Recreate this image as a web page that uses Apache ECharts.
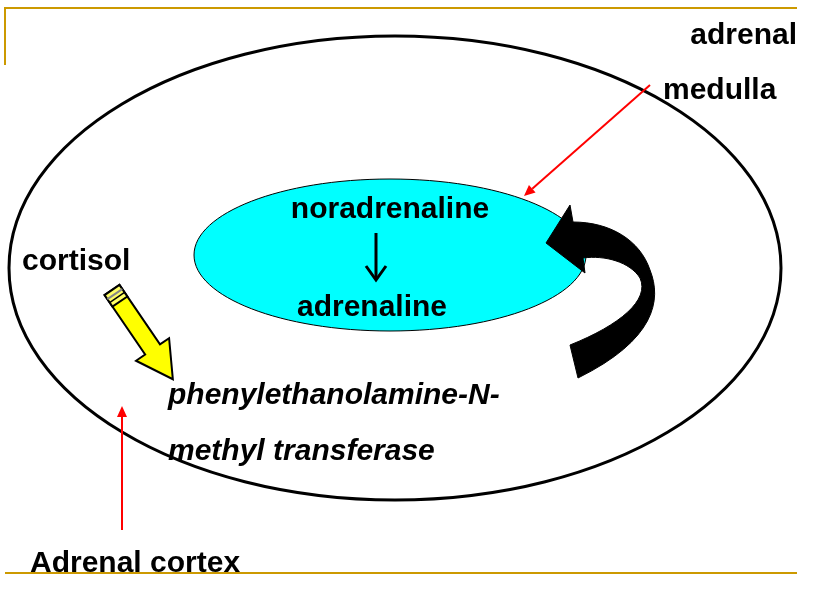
<!DOCTYPE html>
<html>
<head>
<meta charset="utf-8">
<script src="https://cdn.jsdelivr.net/npm/echarts@6/dist/echarts.min.js"></script>
<style>html,body{margin:0;padding:0;background:#fff}#chart{width:828px;height:600px}</style>
</head>
<body>
<div id="chart"></div>
<script>
// diagram texts
var innerLabels = ['noradrenaline', 'adrenaline']
var enzymeLines = ['phenylethanolamine-N-', 'methyl transferase']
var medullaLines = ['adrenal', 'medulla']
var hormone = 'cortisol'
var cortexLabel = 'Adrenal cortex'

var chart = echarts.init(document.getElementById('chart'))
var font = 'bold 30px "Liberation Sans", Arial, sans-serif'
var gold = '#cc9900'

function txt (s, x, y, extra) {
  return {
    type: 'text', x: x, y: y, z: 20,
    style: Object.assign({ text: s, font: font, fill: '#000', textAlign: 'left', textVerticalAlign: 'middle' }, extra || {})
  }
}

// sample a cubic bezier into points
function bez (p0, p1, p2, p3) {
  var out = []
  for (var i = 1; i <= 16; i++) {
    var t = i / 16, u = 1 - t
    out.push([
      u * u * u * p0[0] + 3 * u * u * t * p1[0] + 3 * u * t * t * p2[0] + t * t * t * p3[0],
      u * u * u * p0[1] + 3 * u * u * t * p1[1] + 3 * u * t * t * p2[1] + t * t * t * p3[1]
    ])
  }
  return out
}

function curvedArrow () {
  var pts = [[546, 243], [570, 205], [573, 222]]
  pts = pts.concat(bez([573, 222], [610, 222], [640, 240], [650, 270]))
  pts = pts.concat(bez([650, 270], [662, 300], [655, 340], [578, 378]))
  pts.push([570, 345])
  pts = pts.concat(bez([570, 345], [620, 325], [650, 300], [640, 278]))
  pts = pts.concat(bez([640, 278], [630, 262], [605, 255], [583, 258]))
  pts.push([585, 273])
  return { type: 'polygon', z: 5, shape: { points: pts }, style: { fill: '#000', stroke: '#000', lineWidth: 1 } }
}

// pencil-shaped arrow, built in a local frame then rotated
function pencil () {
  var ox = 112, oy = 290, ang = Math.atan2(88, 60)
  var c = Math.cos(ang), s = Math.sin(ang)
  function p (u, v) { return [ox + u * c - v * s, oy + u * s + v * c] }
  var els = []
  els.push({ type: 'polygon', z: 10, shape: { points: [p(0, -9), p(72, -9), p(72, -20), p(108, 0), p(72, 20), p(72, 9), p(0, 9)] },
    style: { fill: '#ffff00', stroke: '#000', lineWidth: 2 } })
  els.push({ type: 'polygon', z: 11, shape: { points: [p(0, -9), p(14, -9), p(14, 9), p(0, 9)] },
    style: { fill: '#ffff66', stroke: '#000', lineWidth: 2 } })
  els.push({ type: 'polyline', z: 12, shape: { points: [p(5, -9), p(5, 9)] }, style: { stroke: '#888', lineWidth: 2 } })
  els.push({ type: 'polyline', z: 12, shape: { points: [p(9, -9), p(9, 9)] }, style: { stroke: '#000', lineWidth: 1.5 } })
  return els
}

function redArrow (x1, y1, x2, y2) {
  var a = Math.atan2(y2 - y1, x2 - x1), L = 11, W = 5
  var bx = x2 - L * Math.cos(a), by = y2 - L * Math.sin(a)
  return [
    { type: 'line', z: 15, shape: { x1: x1, y1: y1, x2: bx, y2: by }, style: { stroke: '#ff0000', lineWidth: 2 } },
    { type: 'polygon', z: 15, shape: { points: [[x2, y2], [bx - W * Math.sin(a), by + W * Math.cos(a)], [bx + W * Math.sin(a), by - W * Math.cos(a)]] },
      style: { fill: '#ff0000' } }
  ]
}

var elements = [
  { type: 'polyline', shape: { points: [[5, 65], [5, 8], [797, 8]] }, style: { stroke: gold, lineWidth: 2, fill: null } },
  { type: 'line', shape: { x1: 5, y1: 573, x2: 797, y2: 573 }, style: { stroke: gold, lineWidth: 2 } },
  { type: 'ellipse', z: 1, shape: { cx: 395, cy: 268, rx: 386, ry: 232 }, style: { fill: null, stroke: '#000', lineWidth: 3 } },
  { type: 'ellipse', z: 2, shape: { cx: 390, cy: 255, rx: 196, ry: 76 }, style: { fill: '#00ffff', stroke: '#000', lineWidth: 1 } },
  curvedArrow(),
  { type: 'line', z: 6, shape: { x1: 376, y1: 233, x2: 376, y2: 278 }, style: { stroke: '#000', lineWidth: 3 } },
  { type: 'polyline', z: 6, shape: { points: [[366, 266], [376, 280], [386, 266]] }, style: { stroke: '#000', lineWidth: 3, fill: null } },
  txt(innerLabels[0], 390, 210, { textAlign: 'center' }),
  txt(innerLabels[1], 372, 308, { textAlign: 'center' }),
  txt(hormone, 22, 262),
  txt(enzymeLines[0], 168, 396, { font: 'italic ' + font }),
  txt(enzymeLines[1], 168, 452, { font: 'italic ' + font }),
  txt(medullaLines[0], 797, 36, { textAlign: 'right' }),
  txt(medullaLines[1], 663, 91),
  txt(cortexLabel, 30, 564)
].concat(pencil(), redArrow(650, 85, 524, 196), redArrow(122, 530, 122, 406))

chart.setOption({ animation: false, graphic: { elements: elements } })
</script>
</body>
</html>
